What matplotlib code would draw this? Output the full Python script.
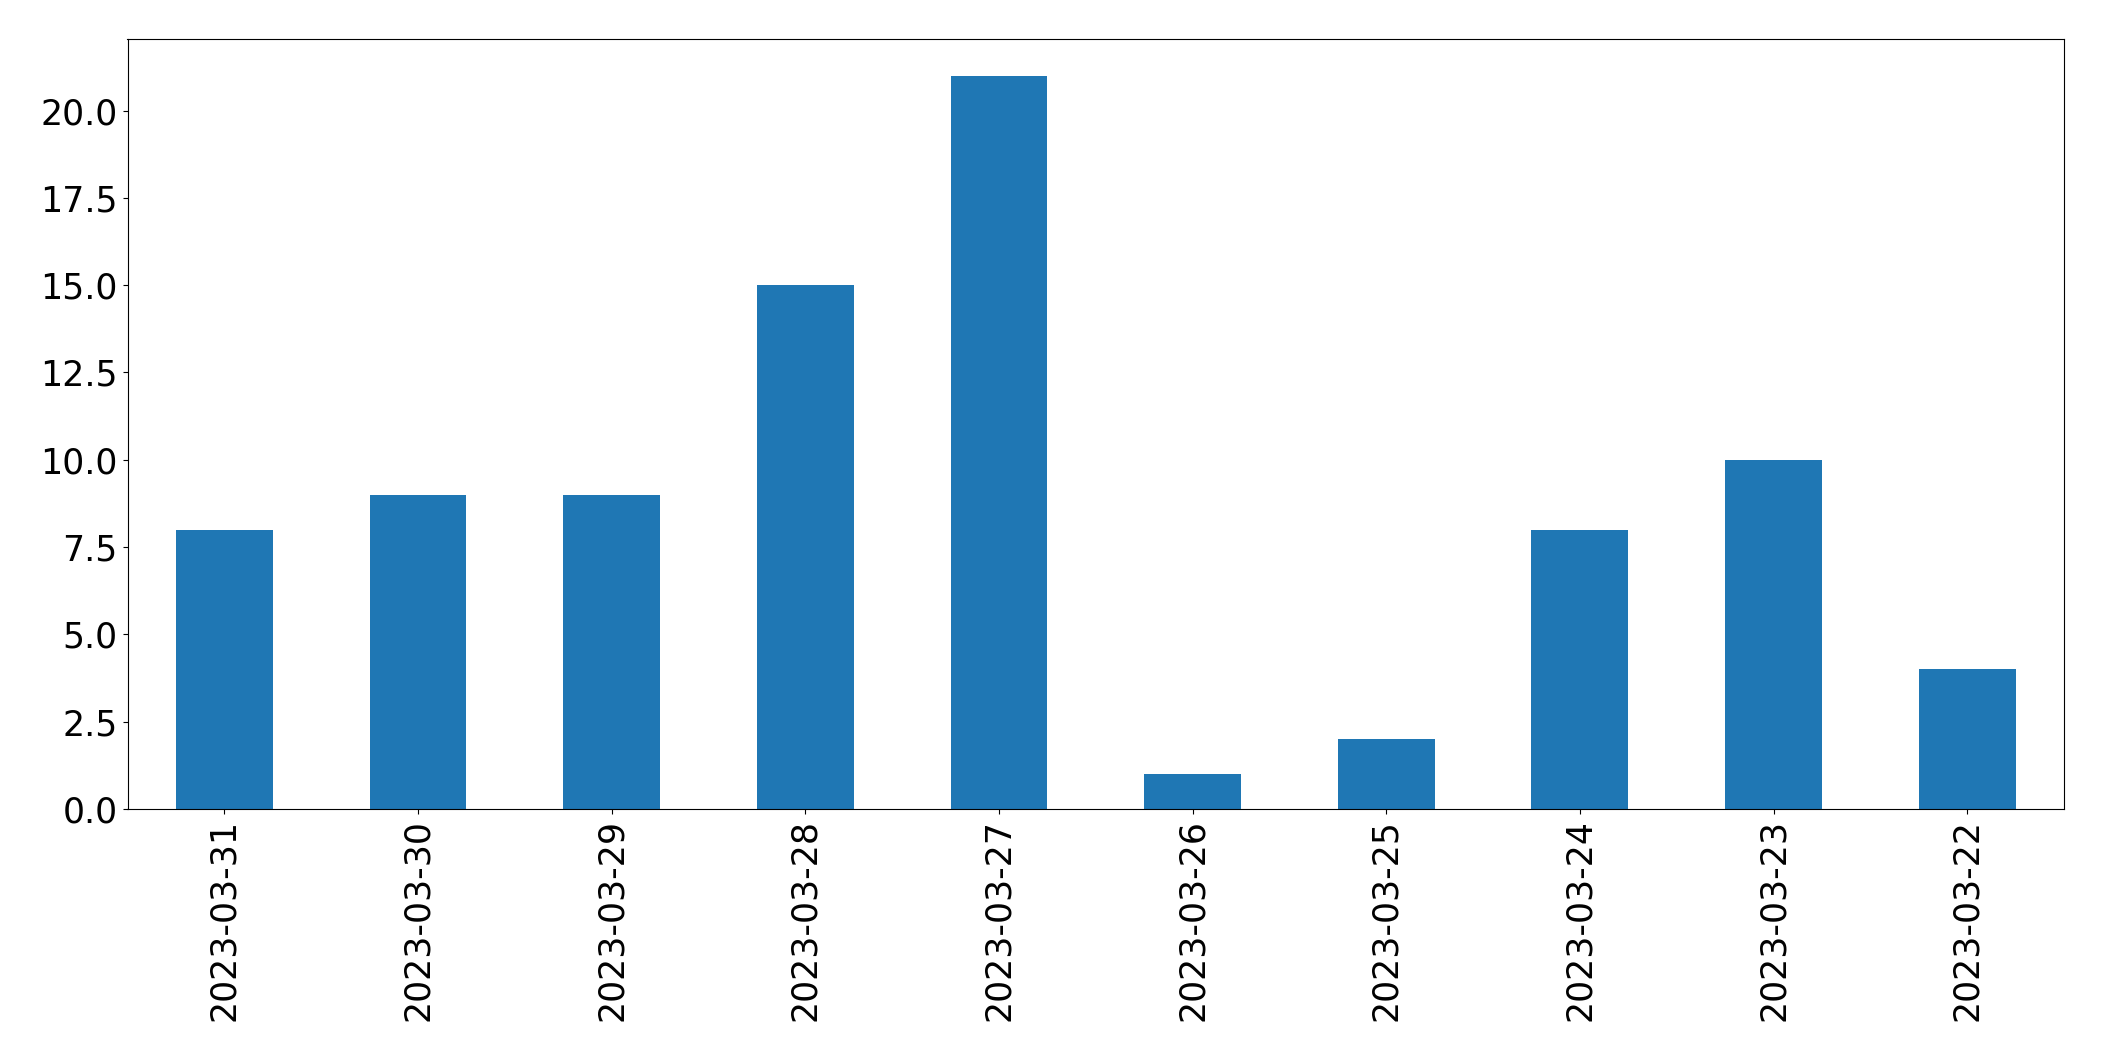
import matplotlib
matplotlib.use("Agg")
import matplotlib.pyplot as plt
import numpy as np

dates = ["2023-03-31", "2023-03-30", "2023-03-29", "2023-03-28", "2023-03-27",
         "2023-03-26", "2023-03-25", "2023-03-24", "2023-03-23", "2023-03-22"]
counts = [8, 9, 9, 15, 21, 1, 2, 8, 10, 4]

fig = plt.figure(figsize=(21.04, 10.61), dpi=100)
ax = fig.add_axes([127.5/2104, 1 - 809/1061, (2064-127.5)/2104, (809-39)/1061])
x = np.arange(len(dates))
ax.bar(x, counts, width=0.5, color="#1f77b4")
ax.set_xlim(-0.5, len(dates) - 0.5)
ax.set_ylim(0, max(counts) * 1.05)
ax.set_yticks(np.arange(0, 22.5, 2.5))
ax.set_xticks(x)
ax.set_xticklabels(dates, rotation=90)
ax.tick_params(labelsize=25)
fig.savefig("out.png", dpi=100)
